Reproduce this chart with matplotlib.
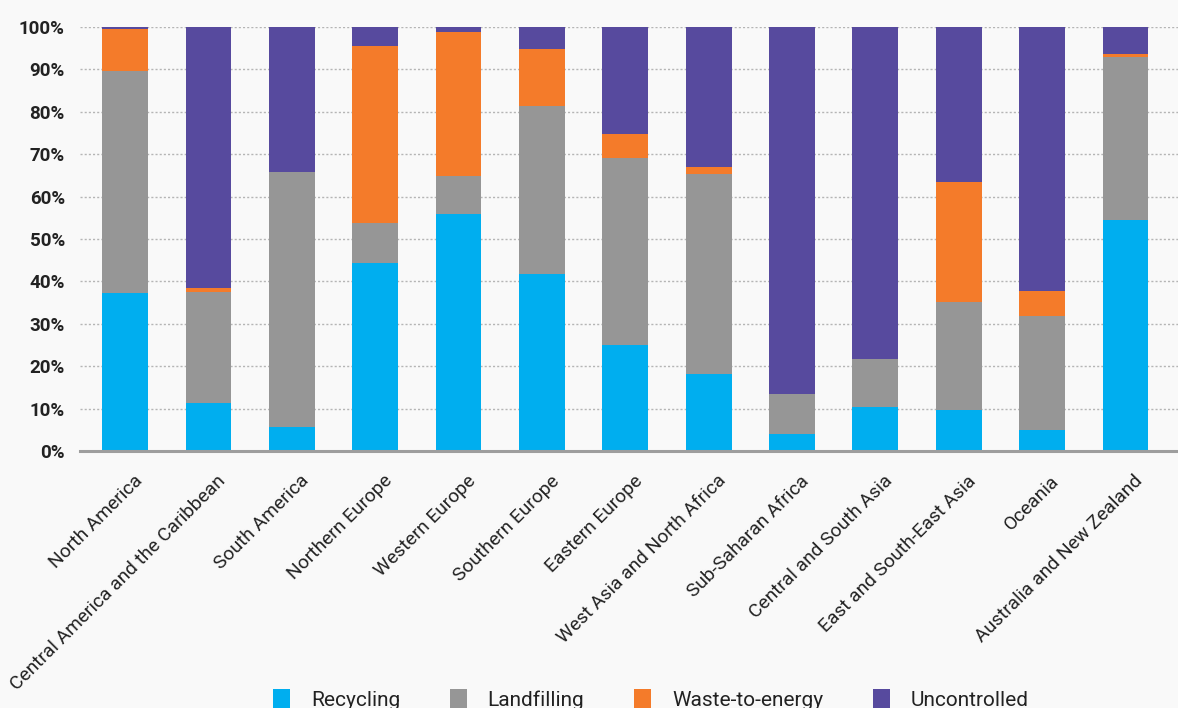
import matplotlib.pyplot as plt
import numpy as np
import matplotlib.ticker as ticker
import matplotlib.transforms as mtransforms

plt.rcParams['font.family'] = ['Roboto', 'DejaVu Sans']

regions = ["North America", "Central America and the Caribbean", "South America",
           "Northern Europe", "Western Europe", "Southern Europe", "Eastern Europe",
           "West Asia and North Africa", "Sub-Saharan Africa", "Central and South Asia",
           "East and South-East Asia", "Oceania", "Australia and New Zealand"]

# shares in %
recycling = [37.3, 11.3, 5.7, 44.3, 55.9, 41.7, 24.9, 18.1, 3.9, 10.3, 9.6, 4.9, 54.5]
landfilling = [52.2, 26.3, 60.1, 9.5, 9.0, 39.7, 44.2, 47.2, 9.5, 11.3, 25.5, 26.9, 38.3]
waste_to_energy = [10.0, 0.9, 0.0, 41.7, 33.8, 13.3, 5.6, 1.6, 0.0, 0.0, 28.3, 5.9, 0.8]
uncontrolled = [0.5, 61.5, 34.2, 4.5, 1.3, 5.3, 25.3, 33.1, 86.6, 78.4, 36.6, 62.3, 6.4]

series = [("Recycling", recycling, "#00aeef"),
          ("Landfilling", landfilling, "#969696"),
          ("Waste-to-energy", waste_to_energy, "#f47b2a"),
          ("Uncontrolled", uncontrolled, "#574a9e")]

bg = "#f9f9f9"
fig = plt.figure(figsize=(11.78, 7.08), dpi=100, facecolor=bg)
ax = fig.add_axes([0.068, 0.363, 0.932, 0.599], facecolor=bg)

x = np.arange(len(regions))
bottom = np.zeros(len(regions))
for name, vals, col in series:
    vals = np.array(vals)
    ax.bar(x, vals, 0.55, bottom=bottom, color=col, label=name, zorder=3, linewidth=0)
    bottom += vals

ax.set_xlim(-0.54, 12.63)
ax.set_ylim(0, 100)

# gridlines
ax.yaxis.set_major_locator(ticker.MultipleLocator(10))
ax.yaxis.set_major_formatter(ticker.FuncFormatter(lambda v, p: f"{v:.0f}%"))
ax.grid(axis='y', linestyle=(0, (1.5, 1.5)), color='#b5b5b5', linewidth=1.0, zorder=1)
ax.axhline(0, color='#9e9e9e', linewidth=2.2, zorder=4, clip_on=False)

for s in ax.spines.values():
    s.set_visible(False)

ax.tick_params(axis='y', length=0, pad=11, labelsize=13.5, labelcolor='#222222')
for lbl in ax.get_yticklabels():
    lbl.set_fontweight('bold')

ax.set_xticks(x)
ax.set_xticklabels(regions, rotation=45, ha='right', rotation_mode='anchor',
                   fontsize=13.8, color='#222222')
ax.tick_params(axis='x', length=0, pad=15)
# shift the slanted labels a little to the right
shift = mtransforms.ScaledTranslation(8 / 100, 0, fig.dpi_scale_trans)
for lbl in ax.get_xticklabels():
    lbl.set_transform(lbl.get_transform() + shift)

fig.legend(loc='center', bbox_to_anchor=(0.5526, 0.012), ncol=4, frameon=False,
           fontsize=15, handlelength=0.8, handleheight=1.0, handletextpad=1.0,
           columnspacing=2.4, labelcolor='#222222', borderpad=0)

fig.savefig("out.png", dpi=100, facecolor=bg)
